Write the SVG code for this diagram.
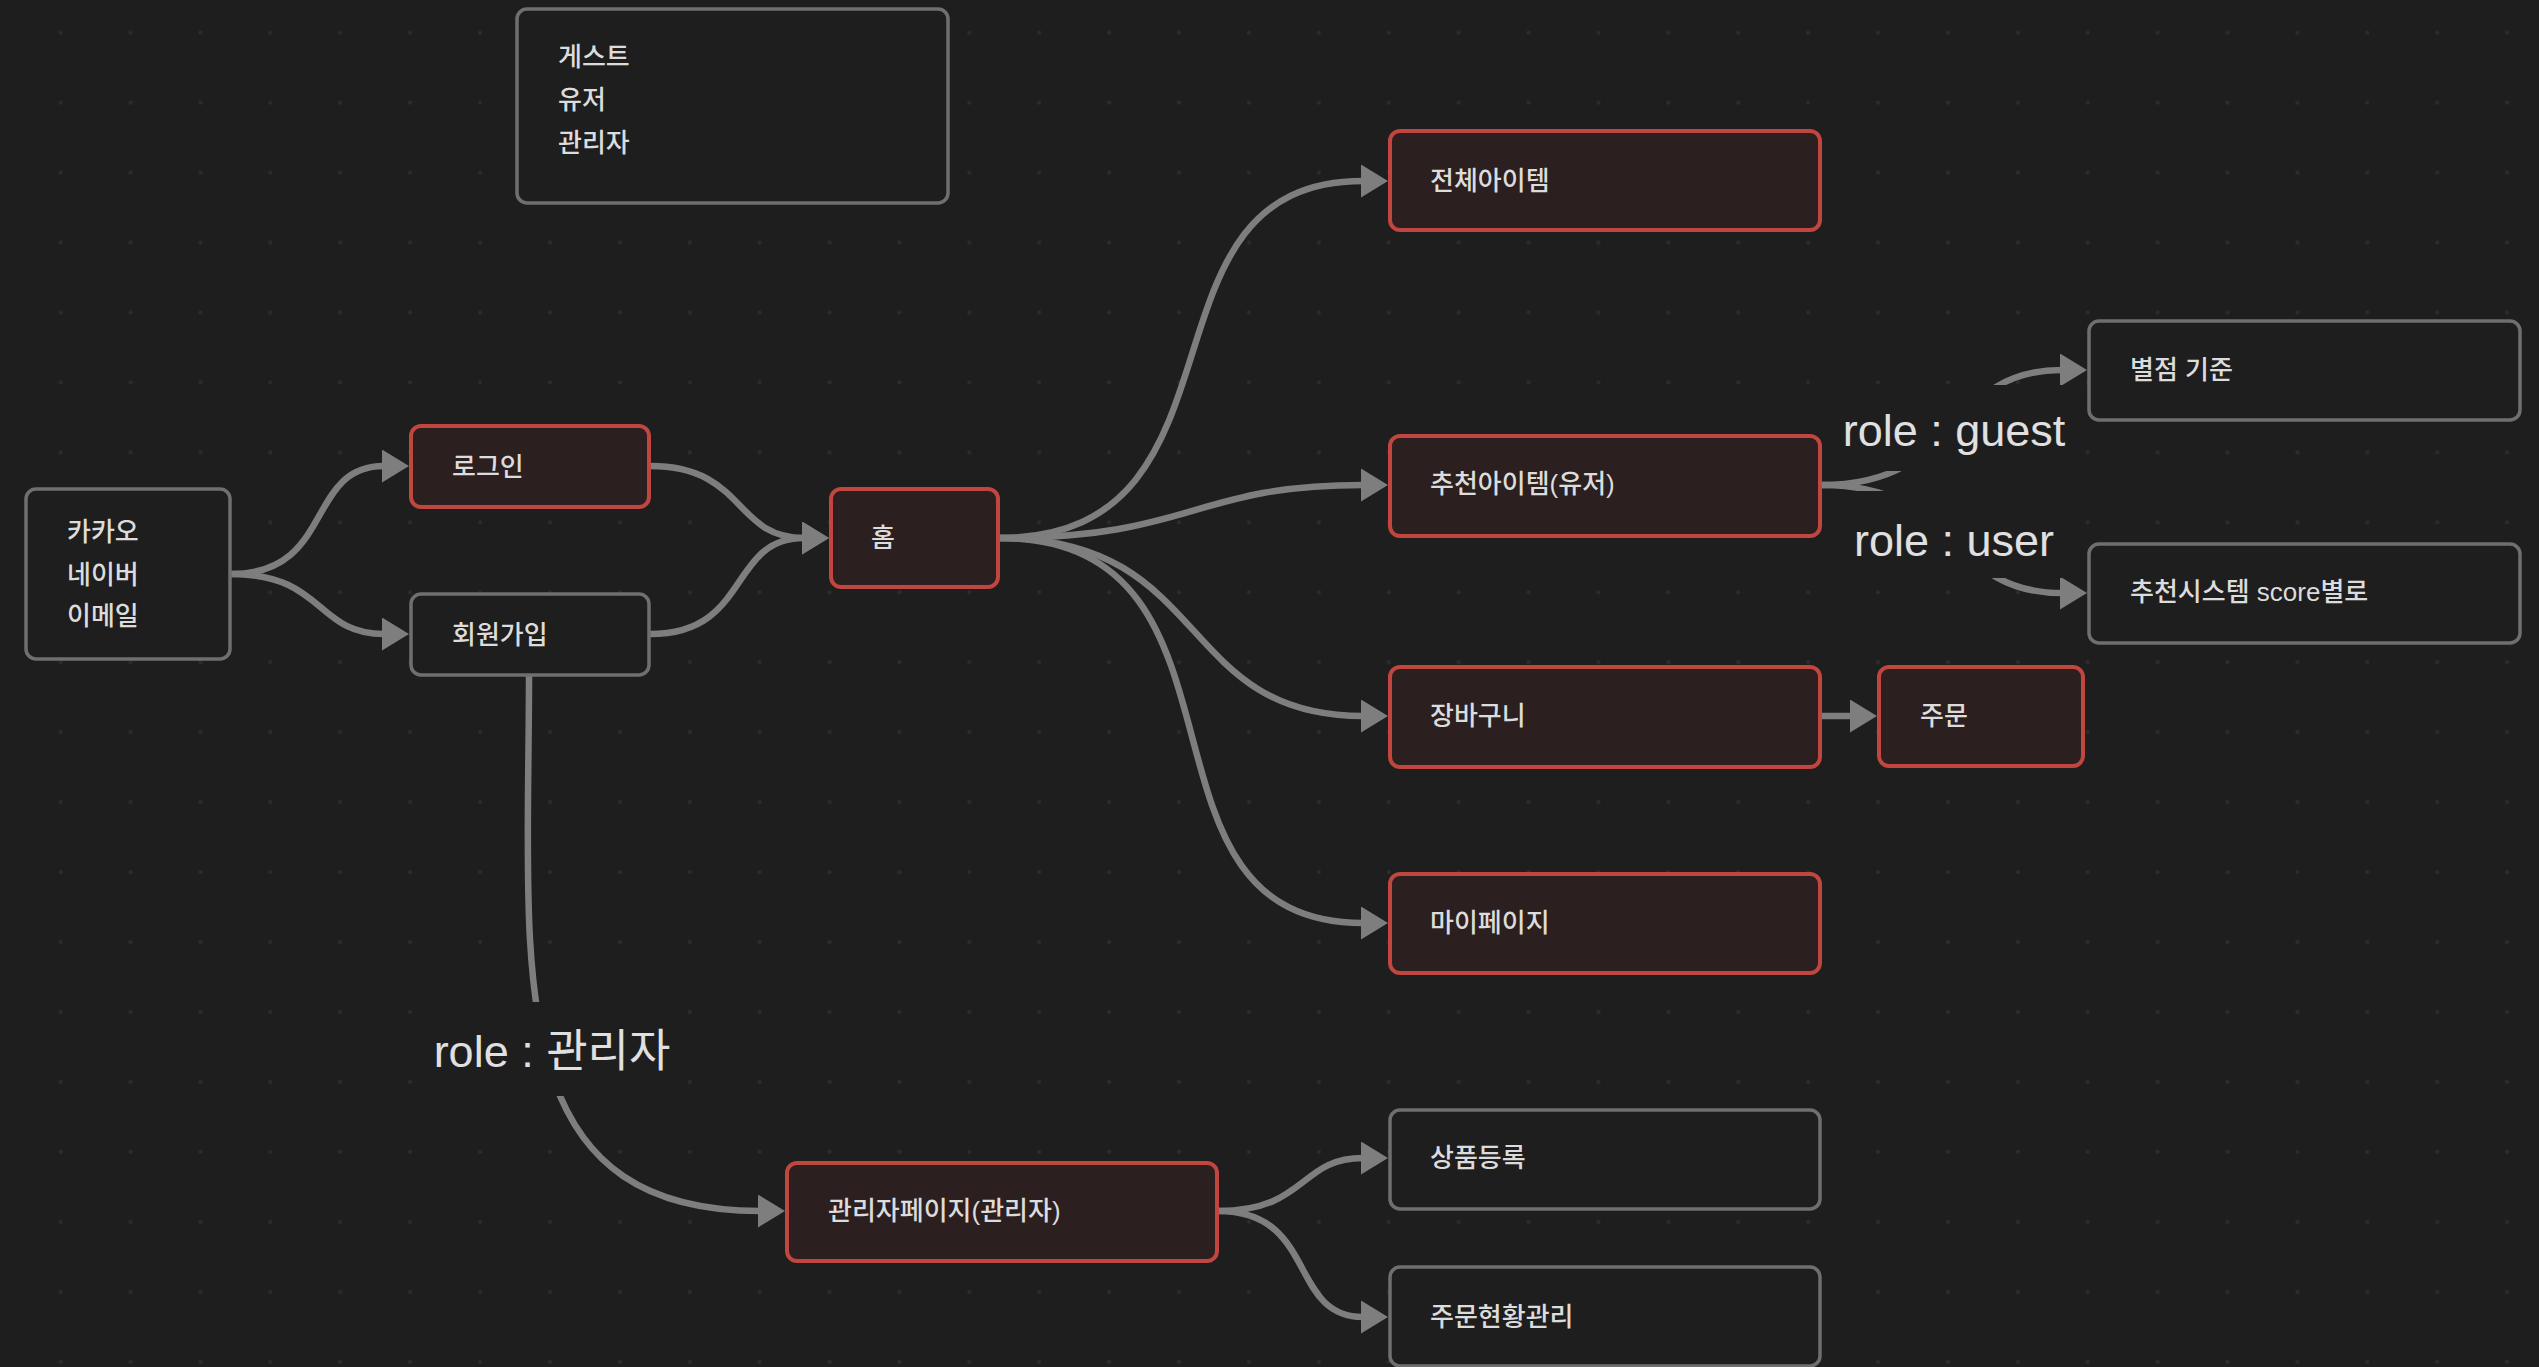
<svg xmlns="http://www.w3.org/2000/svg" width="2539" height="1367" viewBox="0 0 2539 1367">
<defs>
<pattern id="dots" x="25.7" y="-2.3" width="69.9" height="69.95" patternUnits="userSpaceOnUse"><circle cx="34.95" cy="34.95" r="2" fill="#2d2d2d"/></pattern>
<marker id="arr" viewBox="0 0 27 33" refX="2" refY="16.5" markerWidth="27" markerHeight="33" markerUnits="userSpaceOnUse" orient="auto"><path d="M0,0 L27,16.5 L0,33 z" fill="#7e7e7e"/></marker>
<style>
.edge{fill:none;stroke:#7e7e7e;stroke-width:6.5;marker-end:url(#arr)}
.nred{fill:#2b1f1f;stroke:#c1463f;stroke-width:4}
.ngray{fill:#1e1e1e;stroke:#6f6f6f;stroke-width:3.5}
.t{font-family:"Liberation Sans","Noto Sans CJK KR",sans-serif;font-size:26px;font-weight:500;fill:#dcdcdc;dominant-baseline:central}
.lbg{fill:#1e1e1e}
.lbl{font-family:"Liberation Sans","Noto Sans CJK KR",sans-serif;font-size:45px;fill:#e0e0e0;text-anchor:middle}
</style>
</defs>
<rect width="2539" height="1367" fill="#1e1e1e"/>
<rect width="2539" height="1367" fill="url(#dots)"/>
<g id="connectors">
<path class="edge" d="M231,574 C335,574 305,466 384,466"/>
<path class="edge" d="M231,574 C325,574 315,634 384,634"/>
<path class="edge" d="M650,466 C746,466 733,538 804,538"/>
<path class="edge" d="M650,634 C751,634 728,538 804,538"/>
<path class="edge" d="M999,538 C1263,538 1124,181 1363,181"/>
<path class="edge" d="M999,538 C1195,538 1192,485 1363,485"/>
<path class="edge" d="M999,538 C1213,538 1174,716 1363,716"/>
<path class="edge" d="M999,538 C1273,538 1114,923 1363,923"/>
<path class="edge" d="M1821,716 L1852,716"/>
<path class="edge" d="M1821,485 C1965,485 1943,370 2062,370"/>
<path class="edge" d="M1821,485 C1964,485 1944,593 2062,593"/>
<path class="edge" d="M529,676 C529,966 496,1211 760,1211"/>
<path class="edge" d="M1218,1211 C1307,1211 1299,1158 1363,1158"/>
<path class="edge" d="M1218,1211 C1318,1211 1288,1317 1363,1317"/>
<rect class="lbg" x="1832" y="385" width="244" height="86"/>
<text class="lbl" x="1954" y="446">role : guest</text>
<rect class="lbg" x="1846" y="491" width="216" height="87"/>
<text class="lbl" x="1954" y="556">role : user</text>
<rect class="lbg" x="425" y="1002" width="256" height="94"/>
<text class="lbl" x="552" y="1067">role : 관리자</text>
</g>
<g id="legend"><rect class="ngray" x="517" y="9" width="431" height="194" rx="10"/>
<text class="t" x="558" y="57">게스트</text><text class="t" x="558" y="100">유저</text><text class="t" x="558" y="143">관리자</text></g>
<g id="kakao"><rect class="ngray" x="26" y="489" width="204" height="170" rx="10"/>
<text class="t" x="67" y="532">카카오</text><text class="t" x="67" y="575">네이버</text><text class="t" x="67" y="616">이메일</text></g>
<g id="login"><rect class="nred" x="411" y="426" width="238" height="81" rx="10"/><text class="t" x="452" y="467">로그인</text></g>
<g id="signup"><rect class="ngray" x="411" y="594" width="238" height="81" rx="10"/><text class="t" x="452" y="635">회원가입</text></g>
<g id="home"><rect class="nred" x="831" y="489" width="167" height="98" rx="10"/><text class="t" x="871" y="538">홈</text></g>
<g id="all-items"><rect class="nred" x="1390" y="131" width="430" height="99" rx="10"/><text class="t" x="1430" y="181">전체아이템</text></g>
<g id="rec-items"><rect class="nred" x="1390" y="436" width="430" height="100" rx="10"/><text class="t" x="1430" y="484">추천아이템(유저)</text></g>
<g id="cart"><rect class="nred" x="1390" y="667" width="430" height="100" rx="10"/><text class="t" x="1430" y="716">장바구니</text></g>
<g id="order"><rect class="nred" x="1879" y="667" width="204" height="99" rx="10"/><text class="t" x="1920" y="716">주문</text></g>
<g id="mypage"><rect class="nred" x="1390" y="874" width="430" height="99" rx="10"/><text class="t" x="1430" y="923">마이페이지</text></g>
<g id="star"><rect class="ngray" x="2089" y="321" width="431" height="99" rx="10"/><text class="t" x="2130" y="370">별점 기준</text></g>
<g id="recsys"><rect class="ngray" x="2089" y="544" width="431" height="99" rx="10"/><text class="t" x="2130" y="592">추천시스템 score별로</text></g>
<g id="admin"><rect class="nred" x="787" y="1163" width="430" height="98" rx="10"/><text class="t" x="828" y="1211">관리자페이지(관리자)</text></g>
<g id="product-reg"><rect class="ngray" x="1390" y="1110" width="430" height="99" rx="10"/><text class="t" x="1430" y="1158">상품등록</text></g>
<g id="order-status"><rect class="ngray" x="1390" y="1267" width="430" height="99" rx="10"/><text class="t" x="1430" y="1317">주문현황관리</text></g>
</svg>
